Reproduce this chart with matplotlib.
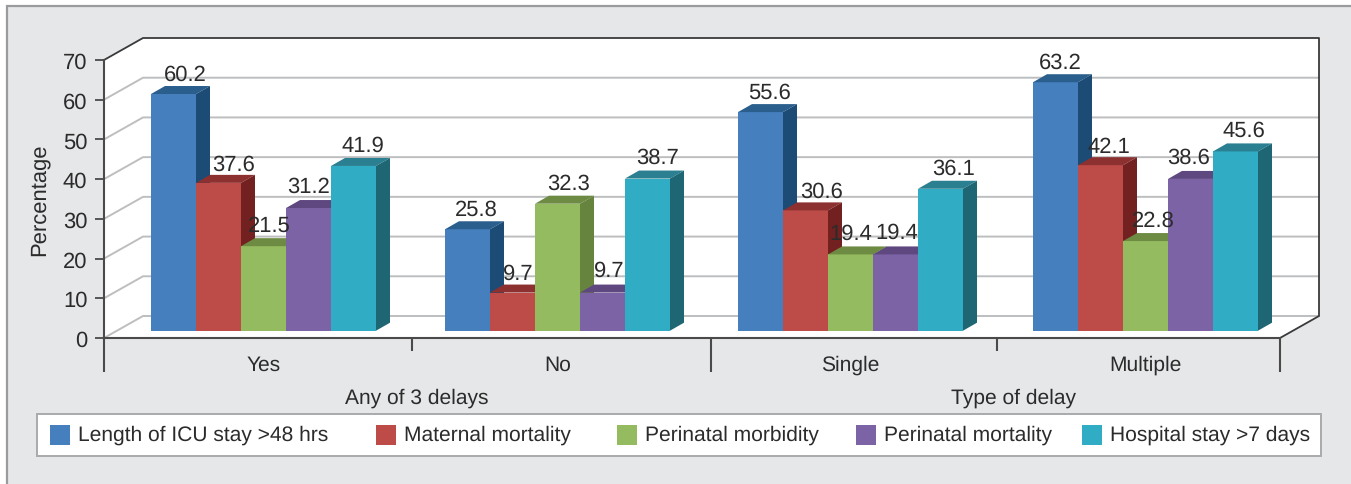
import matplotlib
matplotlib.use("Agg")
import matplotlib.pyplot as plt
from matplotlib.patches import Polygon, Rectangle

plt.rcParams["font.family"] = ["Liberation Sans", "DejaVu Sans"]
plt.rcParams["text.hinting"] = "none"
plt.rcParams["text.hinting_factor"] = 1

groups = ["Yes", "No", "Single", "Multiple"]
super_groups = ["Any of 3 delays", "Type of delay"]
series = ["Length of ICU stay >48 hrs", "Maternal mortality", "Perinatal morbidity",
          "Perinatal mortality", "Hospital stay >7 days"]
icu_stay = [60.2, 25.8, 55.6, 63.2]
maternal_mortality = [37.6, 9.7, 30.6, 42.1]
perinatal_morbidity = [21.5, 32.3, 19.4, 22.8]
perinatal_mortality = [31.2, 9.7, 19.4, 38.6]
hospital_stay = [41.9, 38.7, 36.1, 45.6]
values = [icu_stay, maternal_mortality, perinatal_morbidity, perinatal_mortality, hospital_stay]

# front, top, side
colors = [("#467fbe", "#2a5e8d", "#1c4b75"),
          ("#bd4c48", "#8c3030", "#722020"),
          ("#94bb5f", "#6d8b42", "#67843f"),
          ("#7b63a6", "#5f4880", "#4a3a70"),
          ("#30adc5", "#2a7f90", "#1f6675")]

# nudges of the value labels in pixels, one per bar
label_dx = [[12, 15, 6, 0, 9], [9, 6, 11, 7, 10], [9, 16, 0, 1, 13], [5, 8, 8, -2, 8]]
label_dy = [20, 19, 21, 22, 21]
group_shift = [12.5, 12.5, 11.5, 12.5]

W, H = 1351, 485
X0, X1, Y0, Y70 = 104, 1280, 339, 61
DX, DY = 39, 22
PX_Y = (Y0 - Y70) / 70
PX_X = (X1 - X0) / 4
BAR_W = 45 / PX_X
BAR_DX, BAR_DY = 14 / PX_X, 8 / PX_Y
BASE = 7.3 / PX_Y
# the bars stand in front of the back wall, so they come out slightly shorter than the axis scale
BAR_SCALE = 0.99
FS = 15.4
FS_BIG = 15.7
TXT = "#2b2b2b"

fig = plt.figure(figsize=(W / 100, H / 100), dpi=100, facecolor="white")

# panel, walls, legend: pixel coordinates
bg = fig.add_axes([0, 0, 1, 1])
bg.set_xlim(0, W)
bg.set_ylim(H, 0)
bg.axis("off")
bg.add_patch(Rectangle((7, 6.5), W + 20, H + 20, fc="#e6e7e9", ec="#9a9b9d", lw=1.6))
bg.add_patch(Polygon([(X0, Y70), (X0 + DX, Y70 - DY), (X1 + DX, Y70 - DY), (X1 + DX, Y0 - DY),
                      (X1, Y0), (X0, Y0)], fc="white", ec="none"))
for v in range(0, 70, 10):
    y = Y0 - v * PX_Y
    bg.plot([X0, X0 + DX, X1 + DX], [y, y - DY, y - DY], color="#bdbec0", lw=1.4)
bg.plot([X0, X0 + DX, X1 + DX, X1 + DX, X1], [Y70, Y70 - DY, Y70 - DY, Y0 - DY, Y0],
        color="#3a3a3a", lw=1.3)

bg.add_patch(Rectangle((37, 415), 1284, 42, fc="white", ec="#a9aaac", lw=1.4))
swatch_x = [50, 376, 617, 856, 1082]
for name, c, sx in zip(series, colors, swatch_x):
    bg.add_patch(Rectangle((sx, 426), 20, 20, fc=c[0], ec="none"))
    bg.text(sx + 28, 435.5, name, fontsize=FS, color=TXT, va="center", ha="left")

# data axes
ax = fig.add_axes([X0 / W, 1 - Y0 / H, (X1 - X0) / W, (Y0 - Y70) / H])
ax.set_xlim(0, 4)
ax.set_ylim(0, 70)
ax.patch.set_alpha(0)
for s in ["top", "right"]:
    ax.spines[s].set_visible(False)
for s in ["left", "bottom"]:
    ax.spines[s].set_color("#4a4a4a")
    ax.spines[s].set_linewidth(1.5)

ax.set_yticks(range(0, 71, 10))
ax.tick_params(axis="y", length=6.5, width=1.3, color="#4a4a4a", labelsize=FS_BIG,
               labelcolor=TXT, pad=5.5)
ax.set_ylabel("Percentage", fontsize=FS_BIG, color=TXT, labelpad=10)

ax.set_xticks([0, (711 - X0) / PX_X, 4])
ax.set_xticks([(412 - X0) / PX_X, (997 - X0) / PX_X], minor=True)
ax.set_xticklabels([])
ax.tick_params(axis="x", which="major", length=24.5, width=1.5, color="#4a4a4a")
ax.tick_params(axis="x", which="minor", length=9.5, width=1.5, color="#4a4a4a")

for i, name in enumerate(groups):
    centre = i + 0.5 + group_shift[i] / PX_X
    left = centre - 2.5 * BAR_W
    ax.text(centre, -6.6, name, fontsize=FS, color=TXT, ha="center", va="center", clip_on=False)
    for j, c in enumerate(colors):
        v = values[j][i]
        x = left + j * BAR_W
        h = v * BAR_SCALE
        ax.bar(x, h, BAR_W, bottom=BASE, align="edge", color=c[0], zorder=3 + j)
        top = BASE + h
        ax.add_patch(Polygon([(x, top), (x + BAR_W, top), (x + BAR_W + BAR_DX, top + BAR_DY),
                              (x + BAR_DX, top + BAR_DY)], fc=c[1], ec="none", zorder=3 + j,
                             clip_on=False))
        ax.add_patch(Polygon([(x + BAR_W, BASE), (x + BAR_W + BAR_DX, BASE + BAR_DY),
                              (x + BAR_W + BAR_DX, top + BAR_DY), (x + BAR_W, top)],
                             fc=c[2], ec="none", zorder=3 + j, clip_on=False))
        ax.annotate(f"{v}", (x + BAR_W / 2, top), xytext=(label_dx[i][j], label_dy[j]),
                    textcoords="offset pixels", fontsize=FS_BIG, color=TXT,
                    ha="center", va="center", zorder=20, annotation_clip=False)

ax.text((417 - X0) / PX_X, (Y0 - 398) / PX_Y, super_groups[0], fontsize=FS, color=TXT,
        ha="center", va="center", clip_on=False)
ax.text((1014 - X0) / PX_X, (Y0 - 398) / PX_Y, super_groups[1], fontsize=FS, color=TXT,
        ha="center", va="center", clip_on=False)

fig.savefig("out.png", dpi=100)
